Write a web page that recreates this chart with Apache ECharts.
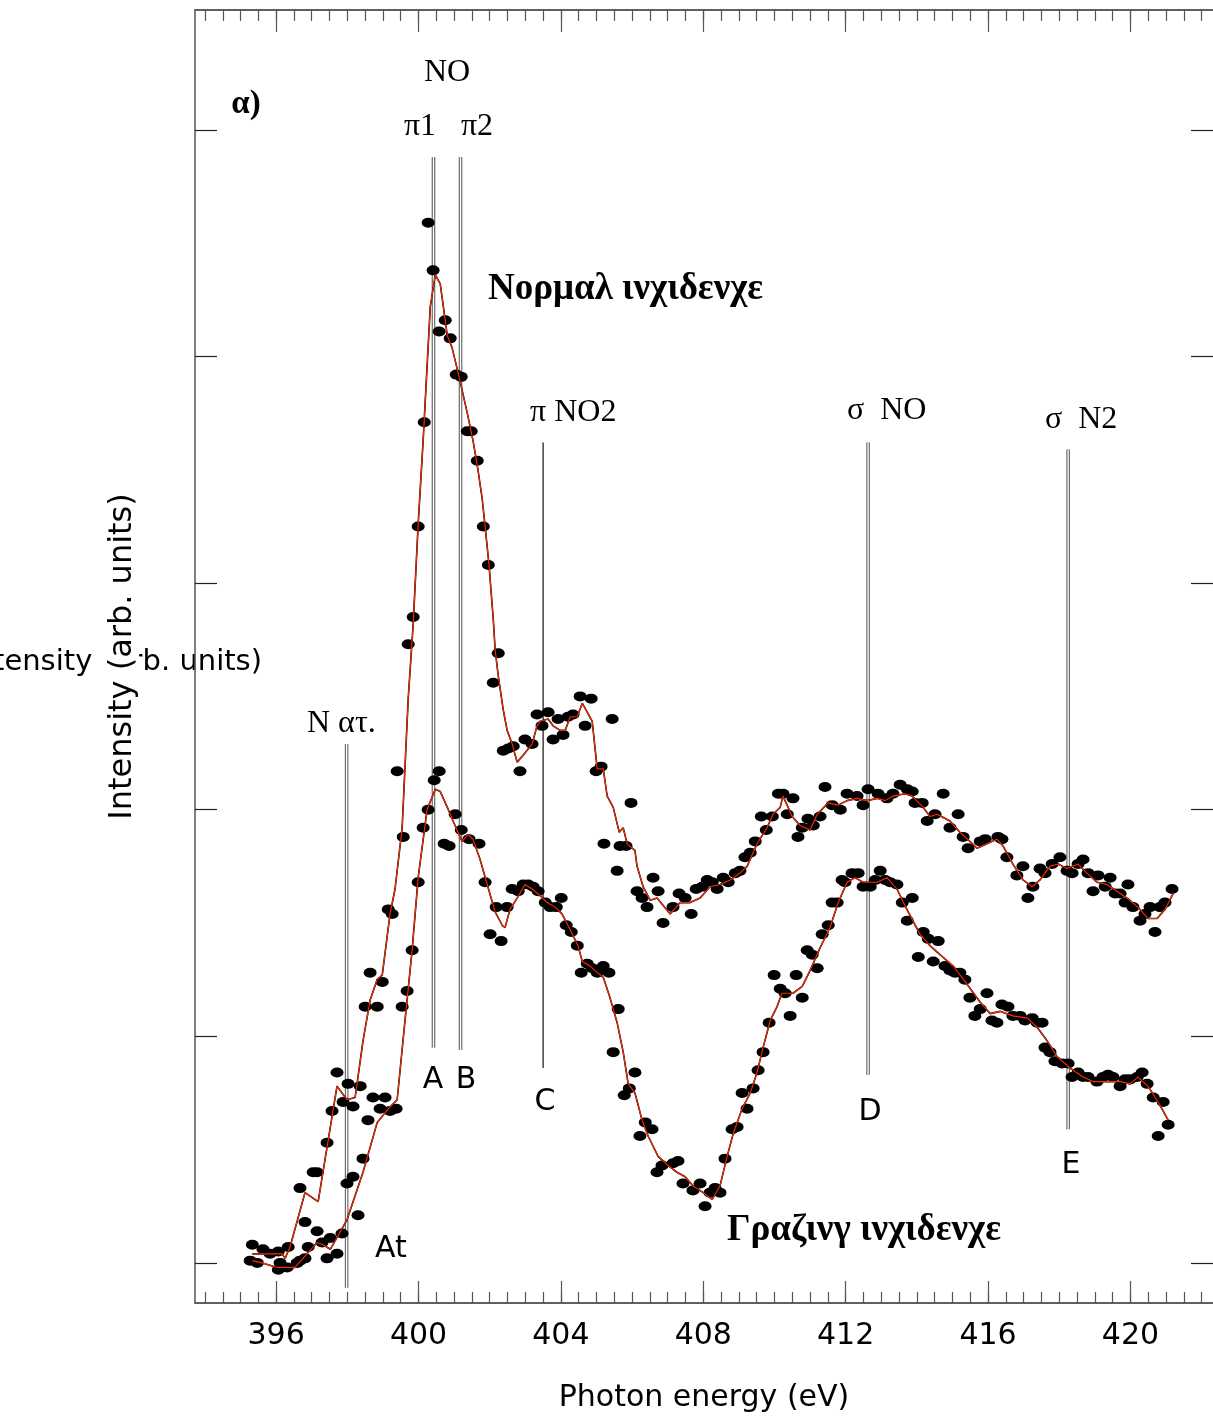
<!DOCTYPE html>
<html>
<head>
<meta charset="utf-8">
<script src="https://cdn.jsdelivr.net/npm/echarts@6/dist/echarts.min.js"></script>
<style>
  html, body { margin: 0; padding: 0; background: #fff; }
  #chart { width: 1213px; height: 1423px; }
</style>
</head>
<body>
<div id="chart"></div>
<script>
// photon energy (eV) / intensity (arb. units)

// normal incidence: measured points
const normalDots = [
  [395.33,0.08],[395.63,0.06],[395.83,0.04],[396.06,0.05],[396.34,0.07],[396.67,0.33],[396.81,0.18],
  [397.04,0.40],[397.15,0.40],[397.43,0.53],[397.57,0.67],[397.71,0.84],[397.88,0.71],[398.02,0.79],
  [398.16,0.69],[398.36,0.78],[398.50,1.13],[398.64,1.28],[398.84,1.13],[398.98,1.24],[399.15,1.56],
  [399.26,1.54],[399.40,2.17],[399.57,1.88],[399.71,2.73],[399.85,2.85],[399.99,3.25],[400.16,3.71],
  [400.27,4.59],[400.41,4.38],[400.58,4.11],[400.75,4.16],[400.89,4.08],[401.06,3.92],[401.20,3.91],
  [401.37,3.67],[401.48,3.67],[401.65,3.54],[401.82,3.25],[401.96,3.08],[402.10,2.56],[402.24,2.69],
  [402.38,2.26],[402.52,2.27],[402.66,2.28],[402.85,2.17],[402.99,2.31],[403.19,2.29],[403.33,2.42],
  [403.47,2.37],[403.64,2.43],[403.78,2.31],[403.92,2.40],[404.06,2.33],[404.20,2.41],[404.34,2.42],
  [404.54,2.50],[404.68,2.37],[404.85,2.49],[404.99,2.17],[405.13,2.19],[405.21,1.85],[405.44,2.40],
  [405.58,1.73],[405.66,1.84],[405.83,1.84],[405.97,2.03],[406.14,1.64],[406.28,1.61],[406.42,1.57],
  [406.59,1.70],[406.73,1.64],[406.87,1.50],[407.15,1.57],[407.32,1.63],[407.49,1.61],[407.66,1.54],
  [407.80,1.65],[407.97,1.66],[408.11,1.69],[408.25,1.68],[408.39,1.65],[408.56,1.70],[408.70,1.68],
  [408.90,1.72],[409.03,1.73],[409.17,1.79],[409.32,1.81],[409.46,1.86],[409.63,1.97],[409.77,1.91],
  [409.94,1.97],[410.11,2.07],[410.24,2.07],[410.36,1.98],[410.52,2.05],[410.66,1.88],[410.78,1.92],
  [410.94,1.96],[411.09,1.93],[411.28,1.97],[411.42,2.10],[411.62,2.02],[411.85,2.00],[412.04,2.07],
  [412.32,2.06],[412.49,2.02],[412.63,2.09],[412.91,2.07],[413.16,2.05],[413.33,2.07],[413.53,2.11],
  [413.73,2.09],[413.87,2.08],[413.95,2.03],[414.15,2.03],[414.29,1.95],[414.51,1.98],[414.74,2.07],
  [414.93,1.92],[415.16,1.98],[415.30,1.88],[415.44,1.83],[415.78,1.86],[415.92,1.87],[416.28,1.88],
  [416.39,1.87],[416.53,1.79],[416.81,1.71],[416.98,1.75],[417.12,1.61],[417.26,1.66],[417.46,1.74],
  [417.60,1.72],[417.80,1.76],[418.02,1.79],[418.22,1.73],[418.36,1.72],[418.53,1.76],[418.67,1.78],
  [418.81,1.72],[418.95,1.64],[419.09,1.71],[419.29,1.66],[419.43,1.70],[419.57,1.63],[419.71,1.63],
  [419.85,1.59],[419.93,1.67],[420.07,1.57],[420.27,1.51],[420.41,1.54],[420.55,1.57],[420.69,1.46],
  [420.83,1.57],[420.97,1.59],[421.17,1.65]
];

// normal incidence: fitted curve
const normalFit = [
  [395.33,0.04],[396.17,0.04],[396.25,0.02],[396.39,0.07],[396.81,0.31],[397.18,0.27],[397.71,0.78],
  [397.99,0.72],[398.22,0.73],[398.44,0.98],[398.64,1.16],[398.84,1.25],[398.98,1.27],[399.20,1.54],
  [399.34,1.65],[399.54,1.92],[399.71,2.49],[399.85,2.82],[399.99,3.26],[400.13,3.63],[400.33,4.22],
  [400.47,4.36],[400.61,4.32],[400.81,4.09],[400.94,4.04],[401.11,3.93],[401.37,3.75],[401.53,3.63],
  [401.67,3.50],[401.79,3.37],[401.87,3.25],[401.98,3.08],[402.10,2.84],[402.15,2.71],[402.24,2.59],
  [402.38,2.44],[402.49,2.35],[402.63,2.29],[402.77,2.21],[402.94,2.24],[403.19,2.29],[403.33,2.37],
  [403.42,2.39],[403.64,2.40],[403.78,2.37],[403.98,2.35],[404.12,2.35],[404.26,2.41],[404.46,2.41],
  [404.60,2.47],[404.88,2.39],[405.02,2.18],[405.19,2.18],[405.30,2.06],[405.47,2.01],[405.64,1.90],
  [405.75,1.92],[405.86,1.85],[406.00,1.83],[406.08,1.82],[406.14,1.75],[406.31,1.66],[406.51,1.60],
  [406.70,1.61],[407.07,1.54],[407.35,1.59],[407.63,1.59],[407.91,1.61],[408.19,1.66],[408.47,1.67],
  [408.76,1.69],[409.03,1.72],[409.23,1.75],[409.51,1.85],[409.79,1.92],[409.96,1.98],[410.16,2.01],
  [410.24,2.06],[410.50,1.97],[410.72,1.93],[411.00,1.91],[411.20,1.98],[411.51,2.03],[411.79,2.02],
  [412.04,2.04],[412.32,2.05],[412.60,2.04],[412.88,2.05],[413.11,2.04],[413.33,2.06],[413.67,2.07],
  [413.87,2.06],[414.18,2.01],[414.37,1.97],[414.57,1.98],[414.93,1.95],[415.21,1.90],[415.49,1.86],
  [415.69,1.83],[415.97,1.85],[416.25,1.87],[416.42,1.84],[416.70,1.76],[416.98,1.69],[417.24,1.66],
  [417.46,1.69],[417.74,1.75],[417.97,1.76],[418.22,1.74],[418.53,1.76],[418.78,1.72],[419.06,1.68],
  [419.34,1.67],[419.62,1.64],[419.90,1.61],[420.21,1.57],[420.49,1.52],[420.75,1.52],[420.97,1.56],
  [421.20,1.63]
];

// grazing incidence: measured points
const grazingDots = [
  [395.27,0.01],[395.47,0.00],[396.06,-0.03],[396.11,0.00],[396.31,-0.02],[396.59,0.00],[396.67,0.01],
  [396.81,0.02],[396.90,0.07],[397.15,0.14],[397.29,0.09],[397.43,0.02],[397.52,0.11],[397.71,0.04],
  [397.85,0.13],[397.99,0.35],[398.16,0.38],[398.30,0.21],[398.44,0.46],[398.58,0.63],[398.72,0.73],
  [398.92,0.68],[399.06,0.73],[399.20,0.67],[399.37,0.68],[399.54,1.13],[399.68,1.20],[399.82,1.38],
  [399.99,1.68],[400.13,1.92],[400.27,2.00],[400.44,2.13],[400.58,2.17],[400.72,1.85],[400.86,1.84],
  [401.03,1.98],[401.20,1.91],[401.42,1.87],[401.70,1.85],[401.87,1.68],[402.01,1.45],[402.18,1.57],
  [402.32,1.42],[402.49,1.57],[402.63,1.65],[402.80,1.64],[402.94,1.67],[403.08,1.67],[403.22,1.66],
  [403.36,1.64],[403.56,1.59],[403.70,1.57],[403.87,1.57],[404.01,1.61],[404.15,1.49],[404.29,1.46],
  [404.46,1.40],[404.57,1.28],[404.74,1.32],[404.88,1.30],[405.02,1.28],[405.19,1.31],[405.35,1.28],
  [405.47,0.93],[405.61,1.12],[405.78,0.74],[405.92,0.77],[406.08,0.84],[406.22,0.56],[406.37,0.62],
  [406.56,0.59],[406.70,0.40],[406.84,0.43],[407.15,0.44],[407.29,0.45],[407.43,0.35],[407.71,0.32],
  [407.91,0.35],[408.05,0.25],[408.19,0.31],[408.33,0.33],[408.47,0.31],[408.61,0.46],[408.81,0.59],
  [408.95,0.60],[409.09,0.75],[409.23,0.68],[409.40,0.77],[409.54,0.85],[409.68,0.93],[409.85,1.06],
  [409.99,1.27],[410.16,1.21],[410.30,1.19],[410.44,1.09],[410.61,1.27],[410.78,1.17],[410.92,1.38],
  [411.06,1.36],[411.20,1.30],[411.34,1.45],[411.51,1.49],[411.62,1.59],[411.76,1.59],[411.90,1.69],
  [411.98,1.68],[412.18,1.72],[412.35,1.72],[412.49,1.66],[412.69,1.66],[412.83,1.69],[412.97,1.73],
  [413.11,1.69],[413.25,1.68],[413.44,1.67],[413.59,1.59],[413.73,1.51],[413.87,1.61],[414.04,1.35],
  [414.18,1.46],[414.32,1.43],[414.46,1.33],[414.60,1.42],[414.79,1.31],[414.93,1.29],[415.07,1.28],
  [415.21,1.28],[415.35,1.25],[415.49,1.17],[415.63,1.09],[415.78,1.12],[415.97,1.19],[416.11,1.07],
  [416.25,1.06],[416.39,1.14],[416.56,1.13],[416.70,1.09],[416.90,1.09],[417.04,1.07],[417.24,1.08],
  [417.38,1.06],[417.52,1.06],[417.60,0.95],[417.74,0.93],[417.88,0.89],[418.08,0.88],[418.25,0.88],
  [418.36,0.82],[418.53,0.84],[418.67,0.82],[418.81,0.82],[419.06,0.80],[419.23,0.82],[419.37,0.83],
  [419.51,0.82],[419.71,0.78],[419.85,0.81],[419.99,0.81],[420.19,0.82],[420.33,0.84],[420.47,0.79],
  [420.64,0.73],[420.78,0.56],[420.92,0.71],[421.06,0.61]
];

// grazing incidence: fitted curve
const grazingFit = [
  [395.33,0.01],[395.61,0.00],[396.03,-0.02],[396.53,-0.02],[396.87,0.04],[397.15,0.09],[397.32,0.08],
  [397.52,0.06],[397.74,0.12],[397.99,0.19],[398.44,0.40],[398.84,0.62],[399.15,0.68],[399.40,0.72],
  [399.62,1.07],[399.82,1.38],[399.99,1.70],[400.24,2.00],[400.47,2.09],[400.61,2.08],[400.81,2.01],
  [400.97,1.95],[401.22,1.86],[401.39,1.89],[401.53,1.87],[401.73,1.78],[401.93,1.67],[402.15,1.55],
  [402.35,1.49],[402.43,1.48],[402.57,1.56],[402.77,1.61],[402.99,1.67],[403.19,1.65],[403.42,1.62],
  [403.61,1.59],[403.84,1.57],[404.03,1.54],[404.26,1.47],[404.48,1.40],[404.60,1.33],[404.82,1.31],
  [404.96,1.29],[405.19,1.26],[405.38,1.17],[405.58,1.06],[405.75,0.93],[405.89,0.79],[406.08,0.75],
  [406.28,0.63],[406.45,0.56],[406.73,0.47],[407.01,0.43],[407.26,0.40],[407.49,0.38],[407.71,0.34],
  [408.00,0.31],[408.25,0.28],[408.47,0.34],[408.67,0.47],[408.84,0.57],[409.09,0.68],[409.32,0.75],
  [409.51,0.84],[409.68,0.95],[409.88,1.07],[410.07,1.13],[410.21,1.19],[410.52,1.19],[410.78,1.22],
  [411.00,1.29],[411.28,1.39],[411.56,1.48],[411.79,1.59],[412.04,1.68],[412.26,1.70],[412.49,1.68],
  [412.88,1.68],[413.16,1.70],[413.44,1.65],[413.72,1.56],[414.09,1.45],[414.37,1.40],[414.65,1.36],
  [415.02,1.31],[415.41,1.23],[415.78,1.15],[416.06,1.10],[416.34,1.11],[416.70,1.09],[417.10,1.08],
  [417.38,1.04],[417.66,0.98],[417.94,0.91],[418.30,0.86],[418.67,0.82],[418.95,0.80],[419.34,0.80],
  [419.71,0.80],[419.99,0.79],[420.21,0.82],[420.49,0.78],[420.78,0.71],[421.06,0.63]
];

// vertical marker lines: energy, top, bottom, drawn as a double line?
const markerNames  = ['N at', 'A', 'B', 'C', 'D', 'E'];
const markerEnergy = [397.98, 400.42, 401.18, 403.50, 412.63, 418.25];
const markerTop    = [2.29, 4.88, 4.88, 3.62, 3.62, 3.59];
const markerBottom = [-0.11, 0.95, 0.94, 0.86, 0.83, 0.59];
const markerDouble = [true, true, true, false, true, true];

// axes
const xMajorTicks = [396, 400, 404, 408, 412, 416, 420];
const yMajorTicks = [0, 1, 2, 3, 4, 5];
const xMinorTicks = [];
for (let e = 394; e <= 422; e += 0.5) xMinorTicks.push(e);

const X_MIN = 393.72, X_MAX = 422.32;
const Y_MIN = -0.177, Y_MAX = 5.529;

const SANS = 'DejaVu Sans';
const SERIF = 'Liberation Serif';
const AXIS_COLOR = '#555';

let myChart = echarts.init(document.getElementById('chart'));

function xAxisCfg(position, ticks, len, labels, extra) {
  return Object.assign({
    type: 'value',
    position: position,
    min: X_MIN,
    max: X_MAX,
    axisLine: { show: true, onZero: false, lineStyle: { color: AXIS_COLOR, width: 1.5 } },
    axisTick: { show: true, inside: true, length: len, customValues: ticks,
                lineStyle: { color: AXIS_COLOR, width: 1.2 } },
    axisLabel: labels
      ? { show: true, customValues: xMajorTicks, fontSize: 30, fontFamily: SANS, color: '#000', margin: 18 }
      : { show: false },
    splitLine: { show: false }
  }, extra || {});
}

function yAxisCfg(position, extra) {
  return Object.assign({
    type: 'value',
    position: position,
    min: Y_MIN,
    max: Y_MAX,
    axisLine: { show: position === 'left', onZero: false, lineStyle: { color: AXIS_COLOR, width: 1.5 } },
    axisTick: { show: true, inside: true, length: 22, customValues: yMajorTicks,
                lineStyle: { color: '#222', width: 1.2 } },
    axisLabel: { show: false },
    splitLine: { show: false }
  }, extra || {});
}

let series = [];

// marker lines
markerEnergy.forEach((e, i) => {
  let seg = [[e, markerTop[i]], [e, markerBottom[i]]];
  series.push({
    type: 'line', name: markerNames[i], data: seg, symbol: 'none', silent: true, z: 1,
    lineStyle: markerDouble[i] ? { color: '#666', width: 3.6 } : { color: '#111', width: 1.2 }
  });
  if (markerDouble[i]) {
    series.push({
      type: 'line', data: seg, symbol: 'none', silent: true, z: 1,
      lineStyle: { color: '#fff', width: 1.3 }
    });
  }
});

// measured points
[normalDots, grazingDots].forEach((d) => {
  series.push({
    type: 'scatter', data: d, symbol: 'circle', symbolSize: [13, 10], z: 2,
    itemStyle: { color: '#000', opacity: 1 }
  });
});

// fitted curves: black under red
[normalFit, grazingFit].forEach((d) => {
  series.push({
    type: 'line', data: d, symbol: 'none', z: 3,
    lineStyle: { color: '#000', width: 1.6 }
  });
  series.push({
    type: 'line', data: d, symbol: 'none', z: 4,
    lineStyle: { color: '#ff2a00', width: 1.1 }
  });
});

function txt(x, y, s, size, family, weight, align) {
  return {
    type: 'text', x: x, y: y, z: 10,
    style: {
      text: s, fontSize: size, fontFamily: family, fontWeight: weight || 'normal',
      fill: '#000', align: align || 'center', verticalAlign: 'middle'
    }
  };
}

myChart.setOption({
  animation: false,
  backgroundColor: '#fff',
  grid: { left: 195, right: 0, top: 10, bottom: 120, containLabel: false },
  xAxis: [
    xAxisCfg('bottom', xMajorTicks, 22, true, {
      name: 'Photon energy (eV)', nameLocation: 'middle', nameGap: 80,
      nameTextStyle: { fontSize: 30, fontFamily: SANS, color: '#000' }
    }),
    xAxisCfg('bottom', xMinorTicks, 11, false),
    xAxisCfg('top', xMajorTicks, 22, false),
    xAxisCfg('top', xMinorTicks, 11, false)
  ],
  yAxis: [
    yAxisCfg('left', {
      name: 'Intensity (arb. units)', nameLocation: 'middle', nameGap: 56,
      nameTextStyle: { fontSize: 32, fontFamily: SANS, color: '#000',
                       backgroundColor: '#fff', padding: [13, 0, 0, 0] }
    }),
    yAxisCfg('right')
  ],
  series: series,
  graphic: [
    // horizontal copy of the axis title, mostly hidden behind the rotated one
    {
      type: 'text', x: 262, y: 662, z: -1,
      style: { text: 'Intensity (arb. units)', fontSize: 29, fontFamily: SANS, fill: '#000',
               align: 'right', verticalAlign: 'middle' }
    },
    txt(246, 104, 'α)', 33, SERIF, 'bold'),
    txt(447, 73, 'NO', 32, SERIF),
    txt(420, 127, 'π1', 32, SERIF),
    txt(477, 127, 'π2', 32, SERIF),
    txt(488, 289, 'Νορμαλ ινχιδενχε', 37, SERIF, 'bold', 'left'),
    txt(530, 413, 'π NO2', 32, SERIF, 'normal', 'left'),
    txt(847, 411, 'σ  NO', 32, SERIF, 'normal', 'left'),
    txt(1045, 420, 'σ  N2', 32, SERIF, 'normal', 'left'),
    txt(307, 724, 'N ατ.', 32, SERIF, 'normal', 'left'),
    txt(727, 1230, 'Γραζινγ ινχιδενχε', 37, SERIF, 'bold', 'left'),
    txt(433, 1080, 'A', 30, SANS),
    txt(466, 1080, 'B', 30, SANS),
    txt(545, 1102, 'C', 30, SANS),
    txt(870, 1112, 'D', 30, SANS),
    txt(1071, 1165, 'E', 30, SANS),
    txt(391, 1249, 'At', 30, SANS)
  ]
});

window.addEventListener('resize', () => {
  myChart.resize();
});
</script>
</body>
</html>
